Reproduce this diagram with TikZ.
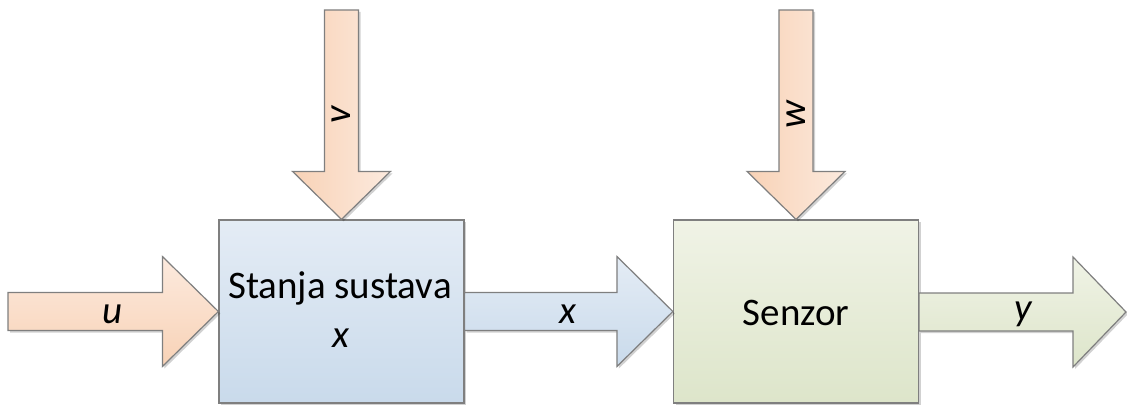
\documentclass[tikz,border=0pt]{standalone}
\usepackage{fontspec}
\setmainfont{Carlito}
\usetikzlibrary{calc,shadows}
\definecolor{peachT}{HTML}{FCEADE}
\definecolor{peachB}{HTML}{F8D2B6}
\definecolor{blueT}{HTML}{E4ECF5}
\definecolor{blueB}{HTML}{C9DAEB}
\definecolor{greenT}{HTML}{F0F3E6}
\definecolor{greenB}{HTML}{DDE5CA}
\definecolor{edge}{HTML}{7F7F7F}
\tikzset{
  outline/.style={draw=edge, line width=1.2pt, line join=miter,
    drop shadow={shadow xshift=2pt, shadow yshift=-2pt, opacity=0.18, fill=black}},
  peach/.style={outline, top color=peachT, bottom color=peachB},
  peachv/.style={outline, left color=peachB, right color=peachT},
  bluef/.style={outline, top color=blueT, bottom color=blueB},
  greenf/.style={outline, top color=greenT, bottom color=greenB},
  block/.style={minimum width=245pt, minimum height=183pt, inner sep=0pt},
  lbl/.style={font=\fontsize{39}{46}\selectfont, inner sep=0pt},
  ilbl/.style={font=\fontsize{39}{46}\selectfont\itshape, inner sep=0pt},
}
% horizontal block arrow: start, tip, head length
\newcommand\harrow[4]{%
  \path[#4] let \p1=(#1), \p2=(#2) in
    (\x1,\y2+19pt) -- (\x2-#3,\y2+19pt) -- (\x2-#3,\y2+55pt) -- (\x2,\y2)
    -- (\x2-#3,\y2-55pt) -- (\x2-#3,\y2-19pt) -- (\x1,\y2-19pt) -- cycle;}
% vertical block arrow: top, tip, head length
\newcommand\varrow[4]{%
  \path[#4] let \p1=(#1), \p2=(#2) in
    (\x2-17pt,\y1) -- (\x2+17pt,\y1) -- (\x2+17pt,\y2+#3) -- (\x2+49pt,\y2+#3)
    -- (\x2,\y2) -- (\x2-49pt,\y2+#3) -- (\x2-17pt,\y2+#3) -- cycle;}
\begin{document}
\begin{tikzpicture}[x=1pt,y=1pt]
\useasboundingbox (0,0) rectangle (1127,405);
% blocks
\node[block, bluef] (sys) at (341.5,93.5) {};
\node[block, greenf] (sen) at (796,93.5) {};
% free ends
\coordinate (uin) at (8,93);
\coordinate (vin) at (341.5,395);
\coordinate (win) at (796,395);
\coordinate (yout) at (1126,93);
% arrows
\harrow{uin}{sys.west}{56pt}{peach}
\harrow{sys.east}{sen.west}{56pt}{bluef}
\harrow{sen.east}{yout}{53pt}{greenf}
\varrow{vin}{sys.north}{48pt}{peachv}
\varrow{win}{sen.north}{48pt}{peachv}
% texts
\node[lbl] (t1) at (340,117) {Stanja sustava};
\node[ilbl] (t2) at (341,67) {x};
\node[lbl] (t3) at (796,92) {Senzor};
\node[ilbl] (lu) at (113,91) {u};
\node[ilbl] (lx) at (568,91) {x};
\node[ilbl] (ly) at (1023,91) {y};
\node[ilbl, rotate=90] (lv) at (341.5,290) {v};
\node[ilbl, rotate=90] (lw) at (796,290) {w};
\end{tikzpicture}
\end{document}
